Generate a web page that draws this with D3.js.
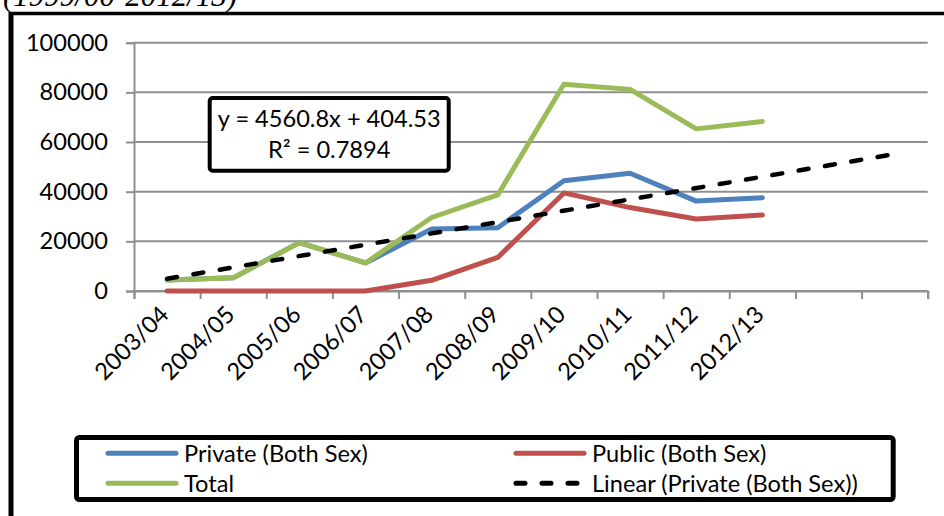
<!DOCTYPE html>
<html>
<head>
<meta charset="utf-8">
<script src="https://cdn.jsdelivr.net/npm/d3@7/dist/d3.min.js"></script>
<style>
  html, body { margin: 0; padding: 0; background: #fff; }
  svg { display: block; }
</style>
</head>
<body>
<svg id="chart" width="944" height="516"></svg>
<script>
// ---------- data ----------
const categories = ["2003/04","2004/05","2005/06","2006/07","2007/08","2008/09","2009/10","2010/11","2011/12","2012/13"];
const forecastPeriods = 2; // trendline forward forecast (empty slots on the axis)
const privateBoth = [4400, 5300, 19500, 11300, 25000, 25500, 44400, 47400, 36200, 37600];
const publicBoth  = [0, 0, 0, 0, 4300, 13500, 39500, 33600, 29000, 30600];
const total       = [4400, 5300, 19500, 11300, 29600, 38700, 83300, 81200, 65300, 68300];
const trendX = [1, 12];          // period numbers (x in the fitted equation)
const trendY = [4965, 55134];    // values of the linear trend at those periods
const yTicks = [0, 20000, 40000, 60000, 80000, 100000];
const seriesNames = ["Private (Both Sex)", "Public (Both Sex)", "Total", "Linear (Private (Both Sex))"];
const equationText = "y = 4560.8x + 404.53";
const r2Text = "R² = 0.7894";
const captionText = "(1999/00-2012/13)";

const colors = { private: "#4F81BD", public: "#C0504D", total: "#9BBB59", trend: "#000000" };
const FONT = "Lato, 'Liberation Sans', Arial, sans-serif";
const FS = 23.6;

const svg = d3.select("#chart");

// ---------- caption (cut at top, as in the source) ----------
svg.append("text")
  .attr("x", 3).attr("y", 6)
  .attr("font-family", "'Liberation Serif', 'Times New Roman', serif")
  .attr("font-style", "italic")
  .attr("font-size", 31)
  .attr("fill", "#000")
  .text(captionText);

// ---------- outer frame ----------
svg.append("line").attr("x1", 11).attr("x2", 11).attr("y1", 12).attr("y2", 520)
  .attr("stroke", "#000").attr("stroke-width", 5);
svg.append("line").attr("x1", 9).attr("x2", 950).attr("y1", 13.5).attr("y2", 13.5)
  .attr("stroke", "#000").attr("stroke-width", 3.5);

// ---------- scales ----------
const nSlots = categories.length + forecastPeriods;
const plotLeft = 134, plotRight = 927.7, plotTop = 42.7, plotBottom = 291;
const xLin = d3.scaleLinear().domain([0, nSlots]).range([plotLeft, plotRight]);
const xc = i => xLin(i + 0.5);
const y = d3.scaleLinear().domain([0, 100000]).range([plotBottom, plotTop]);

const gridColor = "#8f8f8f";

// gridlines
svg.append("g").selectAll("line").data(yTicks).join("line")
  .attr("x1", plotLeft).attr("x2", plotRight)
  .attr("y1", d => y(d)).attr("y2", d => y(d))
  .attr("stroke", gridColor).attr("stroke-width", 2);

// y axis
const yAxis = svg.append("g").attr("transform", `translate(${plotLeft},0)`)
  .call(d3.axisLeft(y).tickValues(yTicks).tickSize(8).tickPadding(18).tickFormat(d3.format("d")));
yAxis.select(".domain").attr("stroke", gridColor).attr("stroke-width", 2);
yAxis.selectAll(".tick line").attr("stroke", gridColor).attr("stroke-width", 2);
yAxis.selectAll(".tick text").attr("font-family", FONT).attr("font-size", FS).attr("fill", "#000");

// x axis (ticks at slot boundaries)
const xAxis = svg.append("g").attr("transform", `translate(0,${plotBottom})`)
  .call(d3.axisBottom(xLin).tickValues(d3.range(nSlots + 1)).tickSize(8).tickFormat(""));
xAxis.select(".domain").attr("stroke", gridColor).attr("stroke-width", 2);
xAxis.selectAll(".tick line").attr("stroke", gridColor).attr("stroke-width", 2);

// x labels rotated
svg.append("g").selectAll("text").data(categories).join("text")
  .attr("transform", (d, i) => `translate(${xc(i) + 3},${316}) rotate(-45)`)
  .attr("text-anchor", "end")
  .attr("font-family", FONT).attr("font-size", FS).attr("fill", "#000")
  .text(d => d);

// ---------- lines ----------
const line = d3.line().x((d, i) => xc(i)).y(d => y(d));
function drawSeries(values, color) {
  svg.append("path").datum(values)
    .attr("d", line)
    .attr("fill", "none").attr("stroke", color).attr("stroke-width", 5)
    .attr("stroke-linejoin", "round").attr("stroke-linecap", "round");
}
drawSeries(privateBoth, colors.private);
drawSeries(publicBoth, colors.public);
drawSeries(total, colors.total);

// trendline
const trendPts = trendX.map((t, k) => [xc(t - 1), y(trendY[k])]);
svg.append("path")
  .attr("d", d3.line()(trendPts))
  .attr("fill", "none").attr("stroke", colors.trend).attr("stroke-width", 4.5)
  .attr("stroke-linecap", "round")
  .attr("stroke-dasharray", "10,16.7");

// ---------- equation box ----------
svg.append("rect").attr("x", 209.7).attr("y", 98).attr("width", 239).attr("height", 72.7)
  .attr("rx", 3).attr("fill", "#fff").attr("stroke", "#000").attr("stroke-width", 4);
svg.append("text").attr("x", 329.2).attr("y", 127).attr("text-anchor", "middle")
  .attr("font-family", FONT).attr("font-size", FS).text(equationText);
svg.append("text").attr("x", 329.2).attr("y", 158).attr("text-anchor", "middle")
  .attr("font-family", FONT).attr("font-size", FS).text(r2Text);

// ---------- legend ----------
svg.append("rect").attr("x", 76.5).attr("y", 437.5).attr("width", 816.7).attr("height", 62)
  .attr("rx", 3).attr("fill", "#fff").attr("stroke", "#000").attr("stroke-width", 5);
const legendItems = [
  { name: seriesNames[0], color: colors.private, dash: null, x: 106, y: 453.3 },
  { name: seriesNames[1], color: colors.public, dash: null, x: 514, y: 453.3 },
  { name: seriesNames[2], color: colors.total, dash: null, x: 106, y: 483.3 },
  { name: seriesNames[3], color: colors.trend, dash: "9,17", x: 514, y: 483.3 }
];
const lg = svg.append("g").selectAll("g").data(legendItems).join("g");
lg.append("line")
  .attr("x1", d => d.x + 2).attr("x2", d => d.x + 70)
  .attr("y1", d => d.y).attr("y2", d => d.y)
  .attr("stroke", d => d.color).attr("stroke-width", 5)
  .attr("stroke-linecap", "round")
  .attr("stroke-dasharray", d => d.dash);
lg.append("text")
  .attr("x", d => d.x + 78).attr("y", d => d.y)
  .attr("dy", "0.35em")
  .attr("font-family", FONT).attr("font-size", FS).attr("fill", "#000")
  .text(d => d.name);
</script>
</body>
</html>
